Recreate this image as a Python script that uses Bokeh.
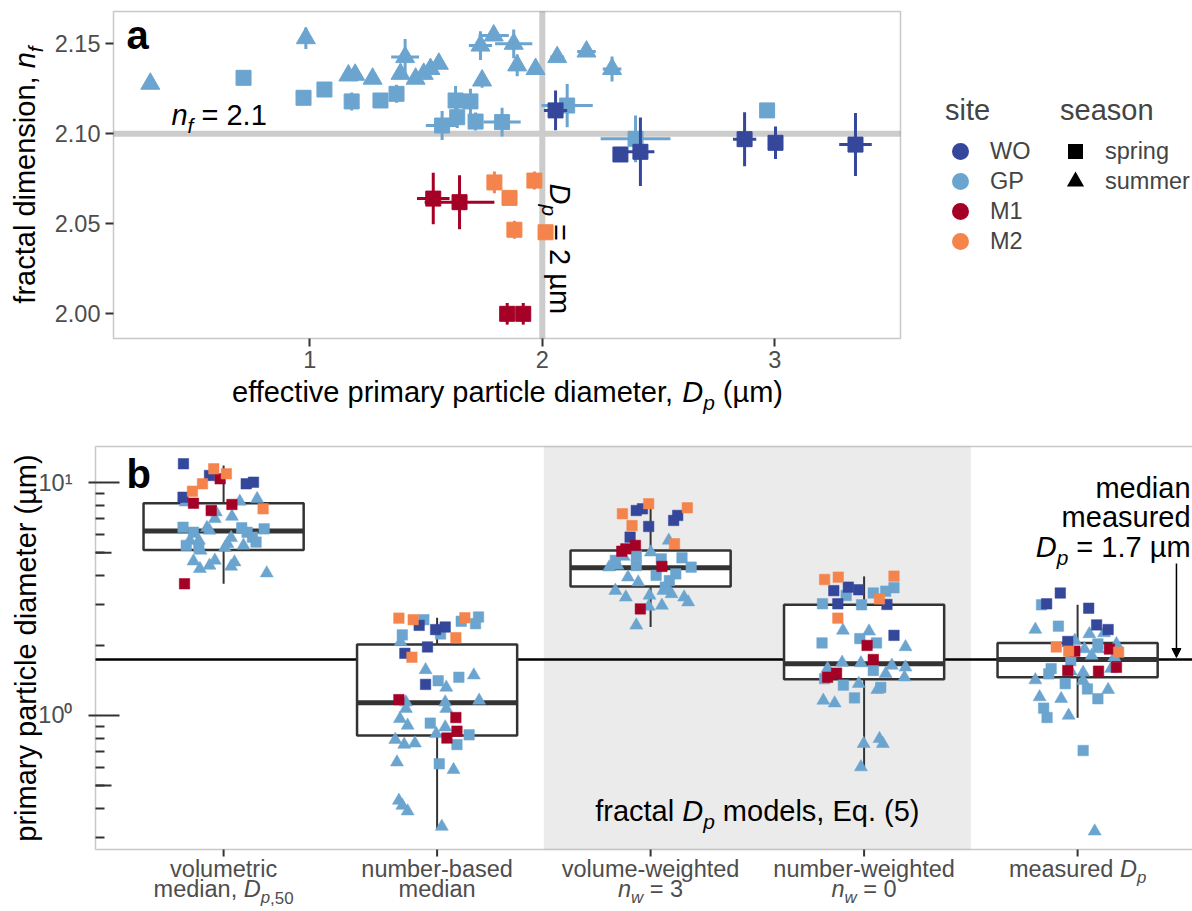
import math
from bokeh.plotting import figure
from bokeh.models import (ColumnDataSource, Range1d, LinearAxis, LogAxis, FixedTicker, PrintfTickFormatter,
                          BoxAnnotation, Label, Legend, LegendItem, Arrow, NormalHead)
from bokeh.layouts import column
from bokeh.embed import file_html
from bokeh.resources import INLINE

FONT = "Liberation Sans"
SITE_COLORS = {"WO": "#34479B", "GP": "#6BA5CF", "M1": "#A50026", "M2": "#F4844C"}
SITE_ORDER = ["WO", "GP", "M1", "M2"]
SEASONS = ["spring", "summer"]
MARK = {"sp": "square", "su": "triangle", "spring": "square", "summer": "triangle"}

# ---------------- panel a data: effective primary particle diameter vs fractal dimension
gp_su_dp = [0.314, 0.983, 1.166, 1.195, 1.27, 1.39, 1.41, 1.455, 1.49, 1.519, 1.555, 1.741, 1.734,
            1.791, 1.877, 1.892, 1.971, 2.064, 2.19, 2.30]
gp_su_nf = [2.1278, 2.1531, 2.1324, 2.1328, 2.1306, 2.1333, 2.1426, 2.1306, 2.1333, 2.136, 2.1389,
            2.1296, 2.149, 2.1546, 2.150, 2.138, 2.136, 2.1426, 2.1457, 2.136]
gp_su_dpe = [0, 0, 0, 0, 0, 0, 0.06, 0, 0, 0, 0, 0, 0.05, 0.065, 0.08, 0, 0, 0.03, 0.04, 0.04]
gp_su_nfe = [0, 0.006, 0, 0, 0, 0.003, 0.010, 0, 0, 0, 0, 0.004, 0.008, 0.003, 0.008, 0.006, 0,
             0.003, 0.003, 0.007]

gp_sp_dp = [0.715, 0.973, 1.063, 1.18, 1.304, 1.373, 1.627, 1.691, 1.569, 1.634, 1.713, 1.827,
            2.107, 2.401, 2.967]
gp_sp_nf = [2.1311, 2.120, 2.1246, 2.118, 2.1185, 2.1222, 2.1185, 2.118, 2.1046, 2.1092, 2.1068,
            2.1065, 2.1157, 2.0972, 2.113]
gp_sp_dpe = [0, 0, 0, 0, 0, 0, 0, 0, 0.07, 0, 0, 0.08, 0.11, 0.15, 0]
gp_sp_nfe = [0, 0.004, 0, 0.005, 0.004, 0.005, 0.008, 0.007, 0.008, 0.006, 0.005, 0.008, 0.012,
             0.013, 0]

wo_sp_dp = [2.057, 2.336, 2.422, 2.87, 3.003, 3.347]
wo_sp_nf = [2.113, 2.0885, 2.090, 2.097, 2.095, 2.094]
wo_sp_dpe = [0.05, 0.02, 0.06, 0.05, 0.03, 0.07]
wo_sp_nfe = [0.011, 0.004, 0.019, 0.015, 0.009, 0.0175]

m1_sp_dp = [1.531, 1.644, 1.849, 1.918]
m1_sp_nf = [2.064, 2.062, 2.000, 2.000]
m1_sp_dpe = [0.07, 0.15, 0, 0]
m1_sp_nfe = [0.0143, 0.015, 0.006, 0.006]

m2_sp_dp = [1.794, 1.859, 1.966, 1.880, 2.014]
m2_sp_nf = [2.073, 2.0644, 2.074, 2.0467, 2.0453]
m2_sp_dpe = [0, 0, 0, 0.02, 0]
m2_sp_nfe = [0.006, 0, 0.005, 0.005, 0]

a_xticks = [1, 2, 3]
a_yticks = [2.00, 2.05, 2.10, 2.15]
a_xlim = (0.1557, 3.5406)
a_ylim = (1.98628, 2.16794)
nf_ref = 2.1
dp_ref = 2.0

# ---------------- panel b data: primary particle diameter by method
b_cats = [1, 2, 3, 4, 5]
b_low = [3.68, 0.326, 2.40, 0.59, 0.977]
b_q1 = [5.14, 0.82, 3.58, 1.43, 1.46]
b_med = [6.20, 1.133, 4.31, 1.67, 1.74]
b_q3 = [8.17, 2.02, 5.12, 2.99, 2.05]
b_high = [11.87, 2.63, 7.86, 3.96, 2.99]
median_measured = 1.74
b_xlim = (0.4, 5.6)
b_ylim = (0.2655, 14.32)

vol_val = [12.07, 11.48, 10.93, 10.75, 10.40, 9.90, 10.06, 9.90, 9.20, 8.67, 8.17, 8.25, 8.07, 8.31,
           8.53, 7.73, 7.60, 7.48, 7.16, 7.00, 6.34, 6.44, 6.41, 6.13, 6.24, 6.41, 6.13, 5.84, 5.80,
           5.65, 5.56, 5.65, 5.47, 5.38, 5.38, 5.29, 5.26, 5.12, 4.60, 4.64, 4.56, 4.27, 4.41, 4.37,
           4.09, 3.68]
vol_jit = [-0.188, -0.046, 0.013, -0.066, -0.016, 0.106, 0.14, -0.099, -0.146, -0.19, -0.141, -0.178,
           0.039, 0.076, 0.157, 0.185, -0.058, -0.036, 0.039, -0.041, 0.19, -0.19, -0.078, -0.141,
           -0.066, 0.085, 0.11, 0.135, 0.035, -0.158, 0.152, -0.116, 0.018, 0.093, -0.175, -0.116,
           0.006, -0.108, -0.141, -0.041, 0.051, -0.111, -0.066, 0.035, 0.202, -0.183]
vol_grp = ["WO-sp", "M2-sp", "M2-sp", "WO-sp", "M1-sp", "WO-sp", "WO-sp", "M2-sp", "M2-sp", "WO-sp",
           "M1-sp", "GP-su", "M1-sp", "GP-su", "GP-su", "M2-sp", "M1-sp", "GP-su", "GP-su", "GP-su",
           "GP-sp", "GP-sp", "GP-su", "GP-sp", "GP-su", "GP-sp", "GP-sp", "GP-sp", "GP-su", "GP-su",
           "GP-sp", "GP-su", "GP-su", "GP-su", "GP-sp", "GP-sp", "GP-su", "GP-su", "GP-su", "GP-su",
           "GP-su", "GP-su", "GP-su", "GP-su", "GP-su", "M1-sp"]

num_val = [2.62, 2.58, 2.58, 2.44, 2.34, 2.40, 2.24, 2.63, 2.54, 2.65, 2.48, 2.22, 2.16, 2.07, 1.85,
           1.78, 1.97, 1.57, 1.41, 1.36, 1.46, 1.49, 1.32, 1.17, 1.14, 1.14, 1.16, 1.07, 1.07, 0.968,
           0.98, 0.927, 0.906, 0.891, 0.856, 0.80, 0.826, 0.834, 0.787, 0.75, 0.76, 0.75, 0.63, 0.62,
           0.584, 0.431, 0.41, 0.388, 0.333]
num_jit = [-0.179, -0.112, -0.062, -0.084, -0.007, 0.038, 0.016, 0.13, 0.113, 0.194, 0.18, -0.163,
           0.088, -0.171, -0.151, -0.118, -0.045, -0.054, 0.005, -0.054, 0.102, 0.172, 0.043, -0.179,
           -0.146, 0.038, 0.197, -0.146, 0.043, -0.174, 0.088, -0.032, -0.138, 0.038, 0.093, 0.046,
           0.15, -0.004, -0.196, -0.154, -0.104, 0.093, -0.188, 0.01, 0.077, -0.179, -0.163, -0.138,
           0.022]
num_grp = ["M2-sp", "M2-sp", "GP-sp", "WO-sp", "WO-sp", "WO-sp", "GP-sp", "M2-sp", "GP-sp", "GP-sp",
           "GP-sp", "GP-sp", "M2-sp", "GP-su", "WO-sp", "M2-sp", "WO-sp", "GP-su", "GP-sp", "WO-sp",
           "GP-sp", "GP-su", "GP-su", "M1-sp", "GP-su", "GP-su", "GP-su", "GP-su", "GP-su", "GP-su",
           "M1-sp", "GP-sp", "GP-su", "GP-su", "M1-sp", "M1-sp", "GP-sp", "GP-su", "GP-su", "GP-su",
           "GP-su", "GP-sp", "GP-su", "GP-sp", "GP-su", "GP-su", "GP-su", "GP-su", "GP-su"]

vw_val = [8.13, 7.81, 7.36, 7.60, 7.73, 7.24, 6.89, 6.55, 6.49, 5.84, 5.65, 5.47, 5.38, 5.20, 5.08,
          5.03, 4.76, 4.71, 4.87, 4.82, 4.64, 4.34, 4.37, 4.34, 4.41, 4.41, 4.00, 4.06, 3.93, 3.74,
          3.80, 3.44, 3.28, 3.44, 3.56, 3.22, 3.22, 3.07, 3.33, 2.87, 2.94, 2.97, 2.44]
vw_jit = [-0.009, 0.172, -0.132, -0.067, -0.038, 0.127, 0.108, -0.087, -0.009, -0.096, 0.085, 0.112,
          -0.071, -0.116, -0.135, 0.001, 0.147, 0.05, -0.067, -0.126, -0.165, 0.19, 0.053, -0.194,
          -0.155, -0.067, 0.026, 0.118, -0.106, -0.058, 0.088, -0.165, -0.005, 0.06, 0.069, -0.116,
          0.157, 0.176, 0.098, -0.048, -0.009, 0.053, -0.067]
vw_grp = ["M2-sp", "M2-sp", "M2-sp", "WO-sp", "WO-sp", "WO-sp", "WO-sp", "M2-sp", "WO-sp", "WO-sp",
          "GP-su", "M2-sp", "M1-sp", "M1-sp", "M1-sp", "GP-su", "GP-sp", "GP-sp", "GP-sp", "GP-su",
          "GP-sp", "GP-sp", "M1-sp", "GP-su", "GP-su", "GP-sp", "GP-sp", "GP-sp", "GP-su", "GP-su",
          "GP-sp", "GP-su", "GP-su", "GP-su", "GP-sp", "GP-su", "GP-su", "GP-su", "GP-su", "M1-sp",
          "GP-su", "GP-su", "GP-su"]

nw_val = [3.84, 3.93, 3.97, 3.54, 3.42, 3.44, 3.56, 3.47, 3.28, 3.36, 3.17, 3.02, 3.02, 2.99, 3.00,
          2.62, 2.32, 2.30, 2.21, 2.14, 2.05, 2.05, 2.00, 1.97, 1.74, 1.69, 1.68, 1.64, 1.61, 1.59,
          1.52, 1.46, 1.56, 1.51, 1.46, 1.44, 1.35, 1.37, 1.32, 1.29, 1.16, 1.13, 1.19, 0.756, 0.794,
          0.756, 0.60]
nw_jit = [-0.185, -0.121, 0.14, 0.14, 0.101, -0.142, -0.074, -0.025, -0.084, 0.043, 0.072, -0.195,
          -0.123, -0.012, 0.107, -0.123, -0.099, 0.023, 0.14, -0.02, -0.197, 0.058, 0.014, 0.194,
          0.043, -0.103, -0.015, 0.13, 0.194, -0.171, -0.129, -0.171, 0.043, 0.101, 0.189, -0.185,
          -0.097, -0.025, 0.078, 0.062, -0.191, -0.138, -0.045, -0.002, 0.072, 0.088, -0.015]
nw_grp = ["M2-sp", "M2-sp", "M2-sp", "GP-sp", "GP-sp", "WO-sp", "WO-sp", "WO-sp", "GP-sp", "GP-sp",
          "M2-sp", "GP-sp", "WO-sp", "GP-sp", "WO-sp", "M2-sp", "GP-su", "GP-su", "WO-sp", "GP-sp",
          "GP-sp", "GP-sp", "M1-sp", "GP-su", "M1-sp", "GP-su", "GP-su", "GP-su", "GP-su", "GP-su",
          "M1-sp", "M1-sp", "GP-sp", "GP-su", "GP-su", "GP-sp", "GP-sp", "GP-su", "GP-sp", "GP-su",
          "GP-su", "GP-su", "GP-sp", "GP-su", "GP-su", "GP-su", "GP-su"]

ms_val = [3.36, 3.02, 2.99, 2.89, 2.42, 2.34, 2.45, 2.34, 2.24, 2.26, 2.08, 2.10, 2.03, 2.03, 1.97,
          1.89, 1.93, 1.93, 1.93, 1.89, 1.87, 1.81, 1.78, 1.72, 1.61, 1.59, 1.55, 1.56, 1.55, 1.53,
          1.59, 1.51, 1.42, 1.37, 1.41, 1.30, 1.29, 1.20, 1.18, 1.18, 1.075, 0.98, 1.00, 0.707, 0.318]
ms_jit = [-0.081, -0.145, -0.169, 0.052, -0.09, -0.198, 0.089, 0.143, 0.055, 0.124, -0.046, -0.013,
          0.095, 0.182, -0.1, -0.013, 0.149, 0.032, 0.095, -0.042, 0.192, 0.066, 0.172, -0.032, 0.182,
          -0.124, -0.032, -0.046, 0.098, 0.026, 0.157, -0.135, -0.198, -0.058, 0.026, 0.046, 0.143,
          -0.178, -0.077, 0.095, -0.159, -0.143, -0.042, 0.026, 0.08]
ms_grp = ["WO-sp", "WO-sp", "GP-sp", "WO-sp", "GP-sp", "GP-su", "WO-sp", "WO-sp", "GP-su", "GP-su",
          "WO-sp", "GP-su", "GP-sp", "GP-su", "M2-sp", "M1-sp", "M1-sp", "GP-su", "GP-su", "M2-sp",
          "M2-sp", "GP-su", "GP-su", "GP-sp", "M1-sp", "GP-sp", "GP-su", "M1-sp", "M1-sp", "GP-su",
          "GP-su", "GP-sp", "GP-su", "GP-sp", "GP-su", "GP-sp", "GP-su", "GP-su", "GP-su", "GP-sp",
          "GP-sp", "GP-sp", "GP-su", "GP-sp", "GP-su"]

b_minor_ticks = [0.3, 0.4, 0.5, 0.6, 0.7, 0.8, 0.9, 2, 3, 4, 5, 6, 7, 8, 9]
b_mid_ticks = [0.5, 5]
shade_left, shade_right = 2.5, 4.5

# ---------------- text helper (Arial / Liberation Sans advance widths)
AW = {' ': 278, '!': 278, '(': 333, ')': 333, ',': 278, '-': 333, '.': 278, '=': 584, 'µ': 576,
      'A': 667, 'B': 667, 'C': 722, 'D': 722, 'E': 667, 'F': 611, 'G': 778, 'H': 722, 'I': 278,
      'M': 833, 'N': 722, 'O': 778, 'P': 667, 'W': 944,
      'a': 556, 'b': 556, 'c': 500, 'd': 556, 'e': 556, 'f': 278, 'g': 556, 'h': 556, 'i': 222,
      'j': 222, 'k': 500, 'l': 222, 'm': 833, 'n': 556, 'o': 556, 'p': 556, 'q': 556, 'r': 333,
      's': 500, 't': 278, 'u': 556, 'v': 500, 'w': 722, 'x': 500, 'y': 500, 'z': 500}
SUB_SCALE = 0.72
SUB_DROP = 0.25
MID = 0.3465   # distance from alphabetic baseline to the middle of the text box (em units)


def _w(text, fs):
    return sum(AW.get(ch, 556) for ch in text) * fs / 1000.0


def rich_text(fig, x, y, parts, size, align="left", angle=0.0, color="#000000"):
    """Mixed-style text; (x, y) is the baseline anchor. Every piece is centred on its own box."""
    pieces = []
    for text, style in parts:
        sub = "s" in style
        fs = size * SUB_SCALE if sub else size
        pieces.append((text, style, fs, _w(text, fs), sub))
    total = sum(p[3] for p in pieces)
    d = {"left": 0.0, "center": -total / 2.0, "right": -total}[align]
    ca, sa = math.cos(angle), math.sin(angle)
    for text, style, fs, w, sub in pieces:
        lead = len(text) - len(text.lstrip(" "))
        core = text.strip()
        start = d + lead * AW[" "] * fs / 1000.0
        s = -SUB_DROP * size if sub else 0.0
        if "b" in style:
            fstyle = "bold"
        elif "i" in style:
            fstyle = "italic"
        else:
            fstyle = "normal"
        along = start + _w(core, fs) / 2.0
        perp = s + MID * fs
        fig.add_layout(Label(x=x, y=y, x_offset=round(along * ca - perp * sa, 2),
                             y_offset=round(along * sa + perp * ca, 2),
                             text=core, angle=angle, text_font=FONT,
                             text_font_size=f"{fs:.1f}px", text_font_style=fstyle,
                             text_color=color, text_align="center", text_baseline="middle"))
        d += w


TICK_COL = "#333333"
LAB_COL = "#4D4D4D"
BORDER = "#4D4D4D"

# ================= panel a (frame covers the whole canvas; panel drawn inside) =================
A_W, A_H = 1192, 430
A_LEFT, A_TOP, A_RIGHT, A_BOTTOM = 113, 11, 900, 338
axpp = (a_xlim[1] - a_xlim[0]) / (A_RIGHT - A_LEFT)
aypp = (a_ylim[1] - a_ylim[0]) / (A_BOTTOM - A_TOP)
pa = figure(width=A_W, height=A_H,
            x_range=Range1d(a_xlim[0] - A_LEFT * axpp, a_xlim[1] + (A_W - A_RIGHT) * axpp),
            y_range=Range1d(a_ylim[0] - (A_H - A_BOTTOM) * aypp, a_ylim[1] + A_TOP * aypp),
            x_axis_location=None, y_axis_location=None, min_border=0,
            output_backend="svg", toolbar_location=None)
pa.title.visible = False
pa.xgrid.visible = False
pa.ygrid.visible = False
pa.outline_line_color = None

ax_x = LinearAxis(fixed_location=a_ylim[0], ticker=FixedTicker(ticks=a_xticks))
ax_y = LinearAxis(fixed_location=a_xlim[0], ticker=FixedTicker(ticks=a_yticks),
                  formatter=PrintfTickFormatter(format="%.2f"))
for ax in (ax_x, ax_y):
    ax.axis_line_color = None
    ax.major_tick_out = 8
    ax.major_tick_in = 0
    ax.minor_tick_out = 0
    ax.minor_tick_in = 0
    ax.major_tick_line_color = TICK_COL
    ax.major_tick_line_width = 2
    ax.major_label_text_font = FONT
    ax.major_label_text_font_size = "23.5px"
    ax.major_label_text_color = LAB_COL
ax_y.major_label_standoff = 5
ax_x.major_label_standoff = 4
pa.add_layout(ax_x, "below")
pa.add_layout(ax_y, "left")

# reference lines n_f = 2.1 and D_p = 2 um (span the panel)
pa.segment(x0=[a_xlim[0]], x1=[a_xlim[1]], y0=[nf_ref], y1=[nf_ref], line_color="#CCCCCC", line_width=6)
pa.segment(x0=[dp_ref], x1=[dp_ref], y0=[a_ylim[0]], y1=[a_ylim[1]], line_color="#CCCCCC", line_width=6)

groups_a = [("GP", "summer", gp_su_dp, gp_su_nf, gp_su_dpe, gp_su_nfe),
            ("GP", "spring", gp_sp_dp, gp_sp_nf, gp_sp_dpe, gp_sp_nfe),
            ("M2", "spring", m2_sp_dp, m2_sp_nf, m2_sp_dpe, m2_sp_nfe),
            ("M1", "spring", m1_sp_dp, m1_sp_nf, m1_sp_dpe, m1_sp_nfe),
            ("WO", "spring", wo_sp_dp, wo_sp_nf, wo_sp_dpe, wo_sp_nfe)]
SIZE_A = {"spring": 15, "summer": 19}
for site, season, dp, nf, dpe, nfe in groups_a:
    col = SITE_COLORS[site]
    src = ColumnDataSource(dict(x=dp, y=nf,
                                x0=[v - e for v, e in zip(dp, dpe)], x1=[v + e for v, e in zip(dp, dpe)],
                                y0=[v - e for v, e in zip(nf, nfe)], y1=[v + e for v, e in zip(nf, nfe)]))
    pa.segment(x0="x0", y0="y", x1="x1", y1="y", source=src, line_color=col, line_width=3)
    pa.segment(x0="x", y0="y0", x1="x", y1="y1", source=src, line_color=col, line_width=3)
    pa.scatter("x", "y", source=src, marker=MARK[season], size=SIZE_A[season],
               fill_color=col, line_color=col, line_width=1)

pa.add_layout(BoxAnnotation(left=a_xlim[0], right=a_xlim[1], bottom=a_ylim[0], top=a_ylim[1],
                            fill_alpha=0, fill_color=None, line_color=BORDER, line_width=1.5))

# annotations panel a
rich_text(pa, 0.2116, 2.1474, [("a", "b")], 40)
rich_text(pa, 0.405, 2.1046, [("n", "i"), ("f", "is"), (" = 2.1", "n")], 29)
rich_text(pa, 2.031, 2.0724, [("D", "i"), ("p", "is"), (" = 2 µm", "n")], 29, angle=-math.pi / 2)
rich_text(pa, 1.848, 1.9507, [("effective primary particle diameter, ", "n"), ("D", "i"), ("p", "is"),
                              (" (µm)", "n")], 29, align="center")
rich_text(pa, -0.1819, 2.0771, [("fractal dimension, ", "n"), ("n", "i"), ("f", "is")], 29,
          align="center", angle=math.pi / 2)

# legends: hidden renderers (drawn only as legend keys) built from the panel-a data
site_data = {"WO": (wo_sp_dp, wo_sp_nf), "GP": (gp_sp_dp + gp_su_dp, gp_sp_nf + gp_su_nf),
             "M1": (m1_sp_dp, m1_sp_nf), "M2": (m2_sp_dp, m2_sp_nf)}
season_data = {"spring": (wo_sp_dp + gp_sp_dp + m1_sp_dp + m2_sp_dp, wo_sp_nf + gp_sp_nf + m1_sp_nf + m2_sp_nf),
               "summer": (gp_su_dp, gp_su_nf)}
site_items = []
for s in SITE_ORDER:
    r = pa.scatter(x=site_data[s][0], y=site_data[s][1], marker="circle", size=17,
                   fill_color=SITE_COLORS[s], line_color=SITE_COLORS[s], line_width=5, visible=False)
    site_items.append(LegendItem(label=s, renderers=[r]))
season_items = []
for s in SEASONS:
    r = pa.scatter(x=season_data[s][0], y=season_data[s][1], marker=MARK[s], size=17,
                   fill_color="black", line_color="black", line_width=3, line_join="miter", visible=False)
    season_items.append(LegendItem(label=s, renderers=[r]))


def style_legend(lg):
    lg.glyph_width = 30
    lg.glyph_height = 30
    lg.label_standoff = 15
    lg.spacing = 0
    lg.padding = 0
    lg.margin = 0
    lg.border_line_color = None
    lg.background_fill_alpha = 0
    lg.inactive_fill_alpha = 0
    lg.label_text_font = FONT
    lg.label_text_font_size = "23.5px"
    lg.title_text_font = FONT
    lg.title_text_font_size = "29px"
    lg.title_text_font_style = "normal"
    lg.title_standoff = 9


leg_site = Legend(items=site_items, title="site", location=(945, 174))
leg_season = Legend(items=season_items, title="season", location=(1060, 234))
style_legend(leg_site)
style_legend(leg_season)
pa.add_layout(leg_site)
pa.add_layout(leg_season)

# ================= panel b (frame covers the whole canvas; panel drawn inside) =================
B_W, B_H = 1192, 481
B_LEFT, B_TOP, B_BOTTOM = 95, 16, 419
PX_PER_CAT = 213.5
lpp = (math.log10(b_ylim[1]) - math.log10(b_ylim[0])) / (B_BOTTOM - B_TOP)
pb = figure(width=B_W, height=B_H,
            x_range=Range1d(b_xlim[0] - B_LEFT / PX_PER_CAT, b_xlim[0] + (B_W - B_LEFT) / PX_PER_CAT),
            y_range=Range1d(10 ** (math.log10(b_ylim[0]) - (B_H - B_BOTTOM) * lpp),
                            10 ** (math.log10(b_ylim[1]) + B_TOP * lpp)),
            y_axis_type="log", x_axis_location=None, y_axis_location=None, min_border=0,
            output_backend="svg", toolbar_location=None)
pb.title.visible = False
pb.xgrid.visible = False
pb.ygrid.visible = False
pb.outline_line_color = None

pb.add_layout(BoxAnnotation(left=shade_left, right=shade_right, bottom=b_ylim[0], top=b_ylim[1],
                            fill_color="#EBEBEB", fill_alpha=1.0, line_color=None, level="underlay"))
pb.segment(x0=[b_xlim[0]], x1=[b_xlim[1]], y0=[median_measured], y1=[median_measured],
           line_color="black", line_width=2.5)

yax = LogAxis(fixed_location=b_xlim[0], ticker=FixedTicker(ticks=[1, 10], minor_ticks=b_minor_ticks))
yax.major_label_overrides = {1: "10⁰", 10: "10¹"}
yax.major_tick_out = 7
yax.major_tick_in = 24
yax.minor_tick_out = 0
yax.minor_tick_in = 9
yax.major_tick_line_color = TICK_COL
yax.minor_tick_line_color = TICK_COL
yax.major_tick_line_width = 2
yax.minor_tick_line_width = 2
yax.axis_line_color = None
yax.major_label_text_font = FONT
yax.major_label_text_font_size = "23.5px"
yax.major_label_text_color = LAB_COL
yax.major_label_standoff = 16
pb.add_layout(yax, "left")

# mid-length log ticks (annotation_logticks style) and category tick marks
mid_len = 16 / PX_PER_CAT
pb.segment(x0=[b_xlim[0]] * len(b_mid_ticks), x1=[b_xlim[0] + mid_len] * len(b_mid_ticks),
           y0=b_mid_ticks, y1=b_mid_ticks, line_color=TICK_COL, line_width=2)
tick_end = 10 ** (math.log10(b_ylim[0]) - 7 * lpp)
pb.segment(x0=b_cats, x1=b_cats, y0=[b_ylim[0]] * len(b_cats), y1=[tick_end] * len(b_cats),
           line_color=TICK_COL, line_width=2)

# boxes
bsrc = ColumnDataSource(dict(x=b_cats, low=b_low, q1=b_q1, med=b_med, q3=b_q3, high=b_high,
                             xl=[c - 0.375 for c in b_cats], xr=[c + 0.375 for c in b_cats]))
pb.segment(x0="x", y0="q3", x1="x", y1="high", source=bsrc, line_color="#333333", line_width=2)
pb.segment(x0="x", y0="low", x1="x", y1="q1", source=bsrc, line_color="#333333", line_width=2)
pb.vbar(x="x", bottom="q1", top="q3", width=0.75, source=bsrc, fill_color="white",
        line_color="#333333", line_width=2.5)
pb.segment(x0="xl", y0="med", x1="xr", y1="med", source=bsrc, line_color="#333333", line_width=5)

# jittered points
xs, ys, cols, marks, sizes, order = [], [], [], [], [], []
SIZE_B = {"square": 10.5, "triangle": 13}
ORDER = {"GP": 0, "WO": 1, "M1": 2, "M2": 3}
for cat, vals, jits, grps in [(1, vol_val, vol_jit, vol_grp), (2, num_val, num_jit, num_grp),
                              (3, vw_val, vw_jit, vw_grp), (4, nw_val, nw_jit, nw_grp),
                              (5, ms_val, ms_jit, ms_grp)]:
    for v, j, g in zip(vals, jits, grps):
        site, season = g.split("-")
        xs.append(cat + j)
        ys.append(v)
        cols.append(SITE_COLORS[site])
        marks.append(MARK[season])
        sizes.append(SIZE_B[MARK[season]])
        order.append(ORDER[site])
idx = sorted(range(len(xs)), key=lambda i: order[i])
psrc = ColumnDataSource(dict(x=[xs[i] for i in idx], y=[ys[i] for i in idx], c=[cols[i] for i in idx],
                             m=[marks[i] for i in idx], s=[sizes[i] for i in idx]))
pb.scatter("x", "y", source=psrc, marker="m", size="s", fill_color="c", line_color="c", line_width=0.5)

pb.add_layout(BoxAnnotation(left=b_xlim[0], right=b_xlim[1], bottom=b_ylim[0], top=b_ylim[1],
                            fill_alpha=0, fill_color=None, line_color=BORDER, line_width=1.5))

# arrow + annotation
arrow_x = 5.463
pb.add_layout(Arrow(end=NormalHead(size=9, fill_color="black", line_color="black"),
                    x_start=arrow_x, y_start=4.5, x_end=arrow_x, y_end=median_measured * 1.02,
                    line_color="black", line_width=1.5))
note_x = 5.529
rich_text(pb, note_x, 8.56, [("median", "n")], 29, align="right")
rich_text(pb, note_x, 6.43, [("measured", "n")], 29, align="right")
rich_text(pb, note_x, 4.775, [("D", "i"), ("p", "is"), (" = 1.7 µm", "n")], 29, align="right")
rich_text(pb, 3.5, 0.3503, [("fractal ", "n"), ("D", "i"), ("p", "is"), (" models, Eq. (5)", "n")], 29,
          align="center")
rich_text(pb, 0.55, 9.55, [("b", "b")], 40)
rich_text(pb, 0.1213, 1.95, [("primary particle diameter (µm)", "n")], 29, align="center",
          angle=math.pi / 2)

# category tick labels (baselines 28 px and 48 px below the panel)
L1 = 10 ** (math.log10(b_ylim[0]) - 28 * lpp)
L2 = 10 ** (math.log10(b_ylim[0]) - 48 * lpp)
rich_text(pb, 1, L1, [("volumetric", "n")], 23.5, align="center", color=LAB_COL)
rich_text(pb, 1, L2, [("median, ", "n"), ("D", "i"), ("p", "is"), (",50", "s")], 23.5, align="center",
          color=LAB_COL)
rich_text(pb, 2, L1, [("number-based", "n")], 23.5, align="center", color=LAB_COL)
rich_text(pb, 2, L2, [("median", "n")], 23.5, align="center", color=LAB_COL)
rich_text(pb, 3, L1, [("volume-weighted", "n")], 23.5, align="center", color=LAB_COL)
rich_text(pb, 3, L2, [("n", "i"), ("w", "is"), (" = 3", "n")], 23.5, align="center", color=LAB_COL)
rich_text(pb, 4, L1, [("number-weighted", "n")], 23.5, align="center", color=LAB_COL)
rich_text(pb, 4, L2, [("n", "i"), ("w", "is"), (" = 0", "n")], 23.5, align="center", color=LAB_COL)
rich_text(pb, 5, L1, [("measured ", "n"), ("D", "i"), ("p", "is")], 23.5, align="center", color=LAB_COL)

layout = column(pa, pb, spacing=0)
with open("out.html", "w") as f:
    f.write(file_html(layout, INLINE, "fractal primary particle diameter"))
